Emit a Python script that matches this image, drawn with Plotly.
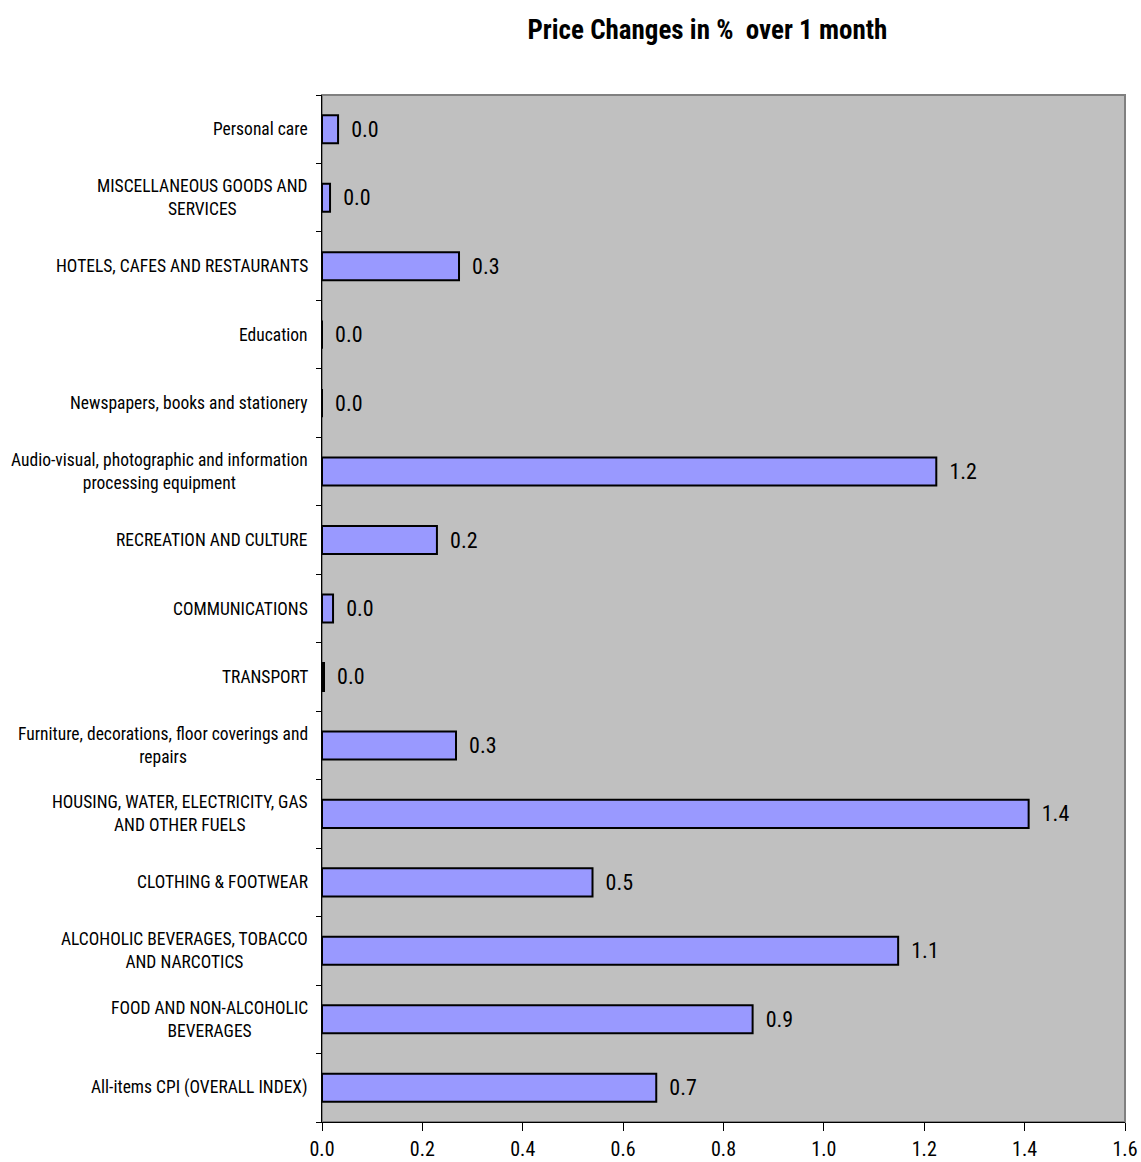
import plotly.graph_objects as go

categories = [
    "All-items CPI (OVERALL INDEX)",
    "FOOD AND NON-ALCOHOLIC<br>BEVERAGES",
    "ALCOHOLIC BEVERAGES, TOBACCO<br>AND NARCOTICS",
    "CLOTHING & FOOTWEAR",
    "HOUSING, WATER, ELECTRICITY, GAS<br>AND OTHER FUELS",
    "Furniture, decorations, floor coverings and<br>repairs",
    "TRANSPORT",
    "COMMUNICATIONS",
    "RECREATION AND CULTURE",
    "Audio-visual, photographic and information<br>processing equipment",
    "Newspapers, books and stationery",
    "Education",
    "HOTELS, CAFES AND RESTAURANTS",
    "MISCELLANEOUS GOODS AND<br>SERVICES",
    "Personal care",
]
values = [0.666, 0.858, 1.148, 0.539, 1.408, 0.267, 0.004, 0.022, 0.229,
          1.224, 0.0, 0.0, 0.273, 0.016, 0.032]
x_ticks = [0.0, 0.2, 0.4, 0.6, 0.8, 1.0, 1.2, 1.4, 1.6]

FONT = "Liberation Sans Narrow, Arial Narrow, Roboto Condensed, Liberation Sans, Arial"

fig = go.Figure(go.Bar(
    x=values, y=categories, orientation="h",
    marker=dict(color="#9999FF", line=dict(color="black", width=2)),
    width=0.41,
    text=values, texttemplate="\u00a0\u00a0%{x:.1f}", textposition="outside",
    textfont=dict(family=FONT, size=22, color="black"),
    cliponaxis=False,
))

for c in categories:
    fig.add_annotation(x=0, xref="paper", y=c, yref="y", text=c,
                       xanchor="right", xshift=-12, align="center",
                       showarrow=False,
                       font=dict(family=FONT, size=17.5, color="black"))

fig.update_layout(
    width=1141, height=1162,
    margin=dict(l=322, r=16, t=95, b=40, autoexpand=False),
    paper_bgcolor="white", plot_bgcolor="#C0C0C0",
    showlegend=False,
    title=dict(text="<b>Price Changes in %  over 1 month</b>",
               x=0.62, xanchor="center", y=0.975, yanchor="middle",
               font=dict(family=FONT, size=27, color="black")),
    xaxis=dict(range=[0, 1.6], tickvals=x_ticks,
               ticktext=[f"{v:.1f}" for v in x_ticks],
               showgrid=False, zeroline=False, automargin=False,
               showline=True, linecolor="black", linewidth=1,
               ticks="outside", ticklen=8, tickcolor="black",
               ticklabelstandoff=1, ticklabeloverflow="allow",
               tickfont=dict(family=FONT, size=20, color="black"),
               mirror=False),
    yaxis=dict(showticklabels=False, showgrid=False, automargin=False,
               showline=True, linecolor="black", linewidth=1,
               ticks="outside", ticklen=5, tickcolor="black",
               tickson="boundaries", range=[-0.5, 14.5]),
)
# gray frame top/right
fig.add_shape(type="rect", xref="paper", yref="paper", x0=0, x1=1, y0=0, y1=1,
              line=dict(color="#808080", width=2), layer="below")

fig.write_html("out.html")
